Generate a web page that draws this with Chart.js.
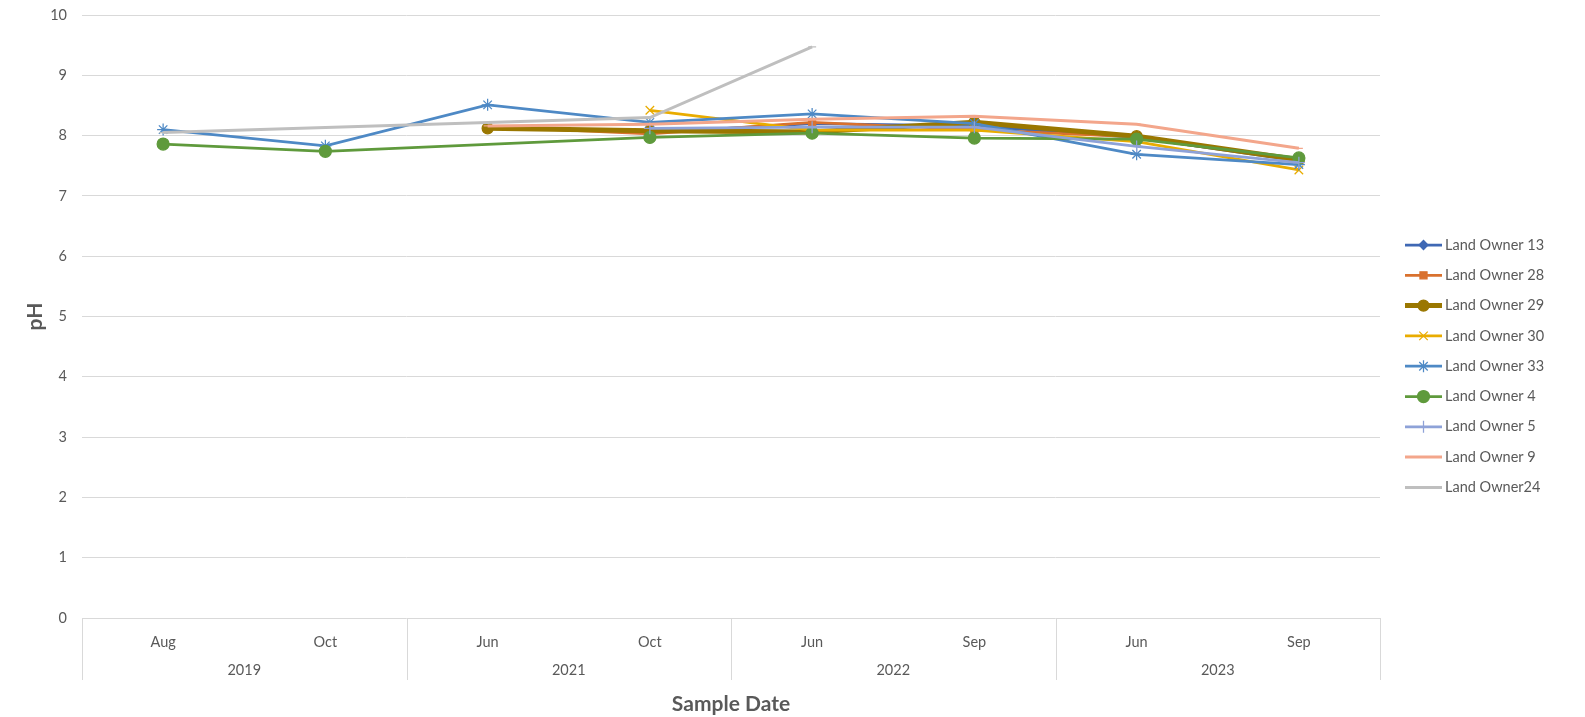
<!DOCTYPE html>
<html>
<head>
<meta charset="utf-8">
<title>pH by Sample Date</title>
<script src="https://cdn.jsdelivr.net/npm/chart.js@4.4.0/dist/chart.umd.min.js"></script>
<style>
  html, body { margin: 0; padding: 0; background: #fff; }
  #wrap { position: relative; width: 1585px; height: 717px; }
</style>
</head>
<body>
<div id="wrap"><canvas id="phChart"></canvas></div>
<script>
const months = ['Aug', 'Oct', 'Jun', 'Oct', 'Jun', 'Sep', 'Jun', 'Sep'];
const years  = ['2019', '2021', '2022', '2023'];   // two samples per year

const owner13 = [null, null, null, 8.05, 8.20, 8.16, 7.97, 7.58];
const owner28 = [null, null, 8.15, 8.03, 8.22, 8.10, 7.98, 7.60];
const owner29 = [null, null, 8.12, 8.08, 8.06, 8.22, 7.99, 7.60];
const owner30 = [null, null, null, 8.42, 8.09, 8.09, 7.90, 7.43];
const owner33 = [8.10, 7.83, 8.51, 8.22, 8.36, 8.20, 7.69, 7.52];
const owner4  = [7.86, 7.74, null, 7.97, 8.04, 7.96, 7.94, 7.63];
const owner5  = [null, null, null, 8.12, 8.14, 8.14, 7.82, 7.55];
const owner9  = [null, null, 8.16, 8.19, 8.27, 8.32, 8.19, 7.79];
const owner24 = [8.05, null, null, 8.30, 9.47, null, null, null];

const series = [
  { label: 'Land Owner 13', data: owner13, color: '#3f68b4', style: 'rectRot',  r: 4.5, w: 2.75 },
  { label: 'Land Owner 28', data: owner28, color: '#d9712e', style: 'rect',     r: 5,   w: 2.75 },
  { label: 'Land Owner 29', data: owner29, color: '#9a7700', style: 'circle',   r: 5.5, w: 5    },
  { label: 'Land Owner 30', data: owner30, color: '#e9ac00', style: 'crossRot', r: 6,   w: 2.75 },
  { label: 'Land Owner 33', data: owner33, color: '#4e89c5', style: 'star',     r: 6,   w: 2.75 },
  { label: 'Land Owner 4',  data: owner4,  color: '#5f9a3c', style: 'circle',   r: 6,   w: 2.75 },
  { label: 'Land Owner 5',  data: owner5,  color: '#8ea2d8', style: 'cross',    r: 6,   w: 2.75 },
  { label: 'Land Owner 9',  data: owner9,  color: '#f3a68b', style: 'line',     r: 4,   w: 3    },
  { label: 'Land Owner24',  data: owner24, color: '#bfbfbf', style: 'line',     r: 4,   w: 3    }
];

Chart.defaults.font.family = 'Lato, "Open Sans", sans-serif';
Chart.defaults.color = '#595959';

// year row under the month labels, plus the group separators
const yearAxis = {
  id: 'yearAxis',
  afterDraw(chart) {
    const x = chart.scales.x;
    const ctx = chart.ctx;
    const cat = x.width / months.length;
    ctx.save();
    ctx.strokeStyle = '#d9d9d9';
    ctx.lineWidth = 1;
    for (let k = 0; k <= years.length; k++) {
      const px = Math.round(x.left + k * 2 * cat) + 0.5;
      ctx.beginPath();
      ctx.moveTo(px, x.top);
      ctx.lineTo(px, 680);
      ctx.stroke();
    }
    ctx.fillStyle = '#595959';
    ctx.font = '14.5px Lato, "Open Sans", sans-serif';
    ctx.textAlign = 'center';
    ctx.textBaseline = 'middle';
    years.forEach((yr, k) => {
      ctx.fillText(yr, x.left + (2 * k + 1) * cat, 670);
    });
    ctx.restore();
  }
};

// legend on the right: line sample with its marker
const sideLegend = {
  id: 'sideLegend',
  afterDraw(chart) {
    const ctx = chart.ctx;
    const x0 = 1405, x1 = 1442, top = 245, step = 30.3;
    ctx.save();
    chart.data.datasets.forEach((ds, i) => {
      const y = top + i * step;
      ctx.strokeStyle = ds.borderColor;
      ctx.fillStyle = ds.backgroundColor;
      ctx.lineWidth = ds.borderWidth;
      ctx.beginPath();
      ctx.moveTo(x0, y);
      ctx.lineTo(x1, y);
      ctx.stroke();
      ctx.lineWidth = 1.25;
      Chart.helpers.drawPoint(ctx, {
        pointStyle: ds.pointStyle, rotation: 0,
        radius: ds.pointRadius, borderWidth: 1.25
      }, (x0 + x1) / 2, y);
      ctx.fillStyle = '#595959';
      ctx.font = '14.5px Lato, "Open Sans", sans-serif';
      ctx.textAlign = 'left';
      ctx.textBaseline = 'middle';
      ctx.fillText(ds.label, 1445, y);
    });
    ctx.restore();
  }
};

new Chart(document.getElementById('phChart'), {
  type: 'line',
  data: {
    labels: months,
    datasets: series.map((s, i) => ({
      label: s.label,
      data: s.data,
      borderColor: s.color,
      backgroundColor: s.color,
      borderWidth: s.w,
      pointStyle: s.style,
      pointRadius: s.r,
      pointHoverRadius: s.r,
      pointBorderWidth: 1.25,
      spanGaps: true,
      tension: 0,
      order: series.length - i
    }))
  },
  options: {
    responsive: true,
    maintainAspectRatio: false,
    animation: false,
    layout: { padding: { top: 15, right: 205, bottom: 0, left: 0 } },
    plugins: {
      legend: { display: false },
      tooltip: { enabled: false }
    },
    scales: {
      x: {
        offset: true,
        grid: { display: false, drawTicks: false },
        border: { display: false },
        ticks: { padding: 16, font: { size: 14.5 }, maxRotation: 0 },
        title: {
          display: true, text: 'Sample Date',
          font: { size: 21, weight: 'bold' },
          padding: { top: 11, bottom: 0 }
        },
        afterFit(scale) { scale.height = 99; }
      },
      y: {
        min: 0, max: 10,
        ticks: { stepSize: 1, padding: 15, font: { size: 14.5 } },
        grid: { color: '#d9d9d9', drawTicks: false },
        border: { display: false },
        title: {
          display: true, text: 'pH',
          font: { size: 21, weight: 'bold' },
          padding: { top: 23, bottom: 0 }
        },
        afterFit(scale) {
          scale.width = 82;
          // keep the plot top at the layout padding
          scale.paddingTop = 0;
          scale.paddingBottom = 0;
        }
      }
    }
  },
  plugins: [yearAxis, sideLegend]
});
</script>
</body>
</html>
